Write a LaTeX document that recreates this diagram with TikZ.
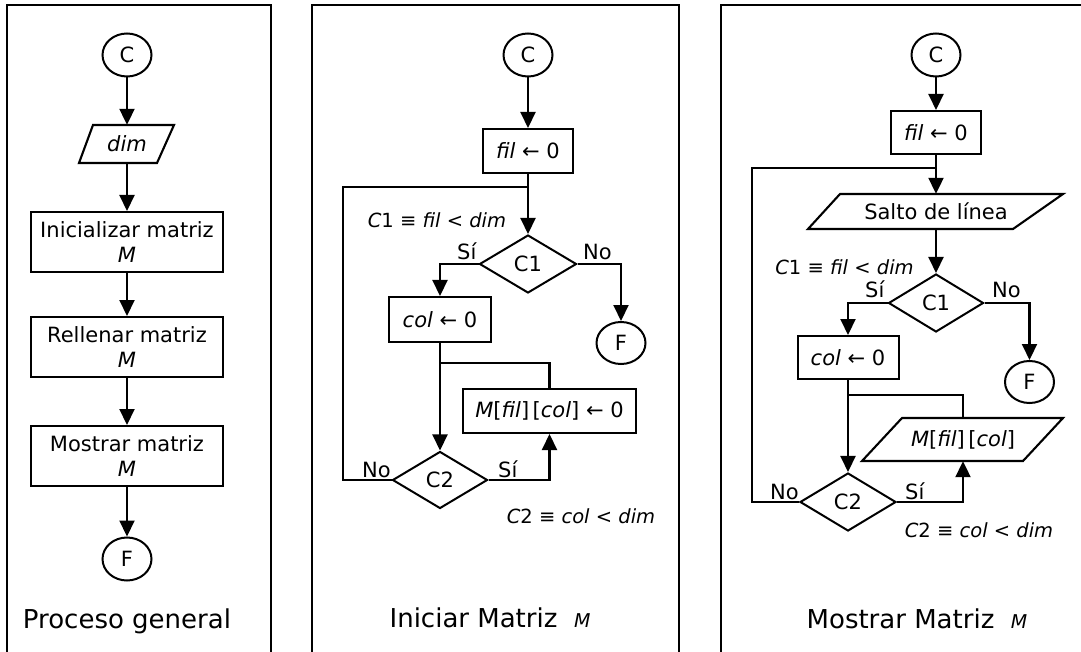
\documentclass[tikz,border=0pt]{standalone}
\usepackage{fontspec}
\setmainfont{DejaVu Sans}
\usetikzlibrary{arrows.meta,shapes.geometric}
\begin{document}
\begin{tikzpicture}[x=1pt,y=-1pt,
  every node/.style={font=\fontsize{21}{25}\selectfont, inner sep=0pt},
  ln/.style={line width=2.1pt},
  arr/.style={line width=2.1pt,-{Triangle[width=15pt,length=16pt]}},
  panel/.style={line width=2pt},
  box/.style={draw, line width=2pt, rectangle, align=center},
  term/.style={draw, line width=2pt, ellipse, minimum width=49pt, minimum height=43pt},
  dec/.style={draw, line width=2pt, diamond},
  io/.style={rectangle, align=center},
  lbl/.style={font=\fontsize{19.5}{22}\selectfont, anchor=base},
  yn/.style={anchor=base west},
  ttl/.style={font=\fontsize{26}{30}\selectfont, anchor=base}
]
\useasboundingbox (0,0) rectangle (1081,652);
% panels
\draw[panel] (7,670) -- (7,5) -- (271,5) -- (271,670);
\draw[panel] (312,670) -- (312,5) -- (679,5) -- (679,670);
\draw[panel] (721,670) -- (721,5) -- (1095,5);

% ---------- Panel 1 ----------
\node[term] (c1) at (127,55) {C};
\node[io, minimum width=70pt, minimum height=38pt] (dim) at (127,144) {\textit{dim}};
\draw[ln] (79,163) -- (157,163) -- (174,125) -- (93,125) -- cycle;
\node[box, minimum width=192pt, minimum height=60pt] (ini) at (127,242) {Inicializar matriz\\\textit{M}};
\node[box, minimum width=192pt, minimum height=60pt] (rel) at (127,347) {Rellenar matriz\\\textit{M}};
\node[box, minimum width=192pt, minimum height=60pt] (mos) at (127,456) {Mostrar matriz\\\textit{M}};
\node[term] (f1) at (127,559) {F};
\node[ttl] (t1) at (127,628) {Proceso general};
\draw[arr] (c1) -- (dim);
\draw[arr] (dim) -- (ini);
\draw[arr] (ini) -- (rel);
\draw[arr] (rel) -- (mos);
\draw[arr] (mos) -- (f1);

% ---------- Panel 2 ----------
\node[term] (c2) at (528,55) {C};
\node[box, minimum width=90pt, minimum height=44pt] (fil2) at (528,151) {\textit{fil} ← 0};
\node[dec, minimum width=97pt, minimum height=58pt] (d1) at (528,264) {C1};
\node[box, minimum width=102pt, minimum height=45pt] (col2) at (440,319.5) {\textit{col} ← 0};
\node[term, minimum height=42pt] (F2) at (621,343) {F};
\node[box, minimum width=173pt, minimum height=44pt] (mb) at (549.5,411) {\textit{M}[\textit{fil}]\,[\textit{col}] ← 0};
\node[dec, minimum width=95pt, minimum height=57pt] (d2) at (440,480) {C2};
\coordinate (j2) at (528,187);
\coordinate (lp2) at (343,187);
\coordinate (k2) at (440,363);
\node[lbl] (l1) at (437,228) {\textit{C}1 ≡ \textit{fil} < \textit{dim}};
\node[yn] (s1) at (457,260) {Sí};
\node[yn] (n1) at (583,260) {No};
\node[yn] (n2) at (362,477) {No};
\node[yn] (s2) at (498,477) {Sí};
\node[lbl] (l2) at (581,523) {\textit{C}2 ≡ \textit{col} < \textit{dim}};
\node[ttl] (t2) at (490,627) {Iniciar Matriz~~{\fontsize{19}{21}\selectfont\textit{M}}};
\draw[arr] (c2) -- (fil2);
\draw[arr] (fil2) -- (d1);
\draw[arr] (d1.west) -| (col2);
\draw[arr] (d1.east) -| (F2);
\draw[arr] (col2) -- (d2);
\draw[ln] (mb.north) |- (k2);
\draw[arr] (d2.east) -| (mb);
\draw[ln] (d2.west) -| (lp2) -- (j2);

% ---------- Panel 3 ----------
\node[term] (c3) at (936,55) {C};
\node[box, minimum width=90pt, minimum height=43pt] (fil3) at (936,132.5) {\textit{fil} ← 0};
\node[io, minimum width=150pt, minimum height=35pt] (salto) at (936,211.5) {Salto de línea};
\draw[ln] (808,229) -- (1013,229) -- (1063,194) -- (840,194) -- cycle;
\node[dec, minimum width=95pt, minimum height=58pt] (d3) at (936,303) {C1};
\node[box, minimum width=101pt, minimum height=43pt] (col3) at (848,357.5) {\textit{col} ← 0};
\node[term, minimum height=42pt] (F3) at (1029.5,382) {F};
\node[io, minimum width=120pt, minimum height=43pt] (mp) at (963,439.5) {\textit{M}[\textit{fil}]\,[\textit{col}]};
\draw[ln] (862,461) -- (1023,461) -- (1063,418) -- (902,418) -- cycle;
\node[dec, minimum width=96pt, minimum height=58pt] (d4) at (848,502) {C2};
\coordinate (j3) at (936,168);
\coordinate (lp3) at (752,168);
\coordinate (k3) at (848,395);
\node[lbl] (l3) at (844.5,274) {\textit{C}1 ≡ \textit{fil} < \textit{dim}};
\node[yn] (s3) at (865,298) {Sí};
\node[yn] (n3) at (992,298) {No};
\node[yn] (n4) at (770,499) {No};
\node[yn] (s4) at (905,499) {Sí};
\node[lbl] (l4) at (979,537) {\textit{C}2 ≡ \textit{col} < \textit{dim}};
\node[ttl] (t3) at (917,628) {Mostrar Matriz~~{\fontsize{19}{21}\selectfont\textit{M}}};
\draw[arr] (c3) -- (fil3);
\draw[arr] (fil3) -- (salto);
\draw[arr] (salto) -- (d3);
\draw[arr] (d3.west) -| (col3);
\draw[arr] (d3.east) -| (F3);
\draw[arr] (col3) -- (d4);
\draw[ln] (mp.north) |- (k3);
\draw[arr] (d4.east) -| (mp);
\draw[ln] (d4.west) -| (lp3) -- (j3);
\end{tikzpicture}
\end{document}
